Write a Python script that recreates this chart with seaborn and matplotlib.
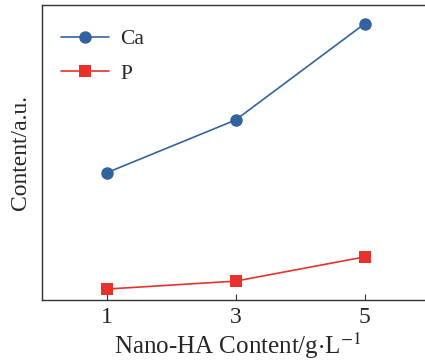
import matplotlib
matplotlib.use("Agg")
import matplotlib.pyplot as plt
import seaborn as sns
import pandas as pd

# Element content versus nano-HA concentration
nano_ha = [1, 3, 5]
ca_content = [43.1, 61.0, 93.6]
p_content = [3.7, 6.4, 14.6]
tick_labels = ["1", "3", "5"]

df = pd.DataFrame({
    "x": nano_ha * 2,
    "y": ca_content + p_content,
    "element": ["Ca"] * 3 + ["P"] * 3,
})

sns.set_style("ticks")
plt.rcParams["font.family"] = ["Liberation Serif", "DejaVu Serif"]
plt.rcParams["mathtext.fontset"] = "stix"

fig = plt.figure(figsize=(4.25, 3.6), dpi=100)
ax = fig.add_axes([42 / 425, 60 / 360, 392 / 425, 295 / 360])

palette = {"Ca": "#33639f", "P": "#e8312a"}
sns.lineplot(data=df, x="x", y="y", hue="element", style="element",
             markers={"Ca": "o", "P": "s"}, dashes=False, palette=palette,
             markersize=9, linewidth=1.2, markeredgewidth=0, ax=ax)

ax.set_xlim(0, 392 / 64.5)
ax.set_ylim(0, 100)
ax.set_xticks(nano_ha)
ax.set_xticklabels(tick_labels, fontsize=17)
ax.set_yticks([])
ax.tick_params(axis="x", direction="in", length=4, width=0.8, color="#333333", pad=5)
for s in ax.spines.values():
    s.set_linewidth(1.0)
    s.set_color("#333333")

ax.set_xlabel("Nano-HA Content/g$\\cdot$L$^{-1}$", fontsize=18, labelpad=2)
ax.set_ylabel("Content/a.u.", fontsize=17, labelpad=8)

leg = ax.legend(loc="upper left", frameon=False, fontsize=15.5, handlelength=2.2,
                borderaxespad=0.5, labelspacing=0.65, handletextpad=0.55,
                bbox_to_anchor=(0.0, 0.983))

fig.savefig("out.png", dpi=100)
